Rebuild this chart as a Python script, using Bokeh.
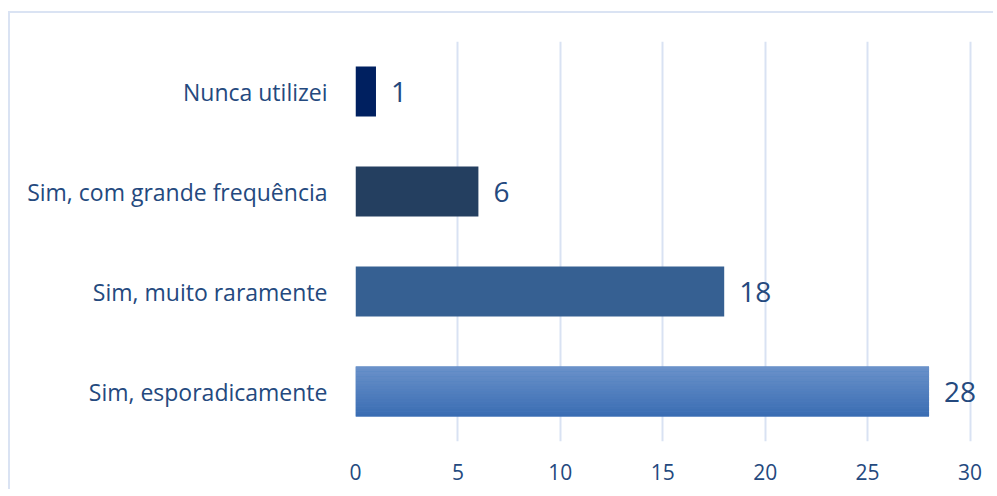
from bokeh.plotting import figure
from bokeh.models import ColumnDataSource, FactorRange, LabelSet
from bokeh.transform import dodge
from bokeh.core.properties import value
from bokeh.embed import file_html
from bokeh.resources import INLINE

# ---- data ----
categories = ["Sim, esporadicamente", "Sim, muito raramente",
              "Sim, com grande frequência", "Nunca utilizei"]
counts = [28, 18, 6, 1]
bar_colors = ["#4F7FC0", "#366092", "#243F60", "#002060"]
x_ticks = [0, 5, 10, 15, 20, 25, 30]

TEXT = "#24497E"
FONT = "Open Sans"

src = ColumnDataSource(dict(cat=categories, val=counts, col=bar_colors,
                            lbl=[str(v) for v in counts]))

p = figure(y_range=FactorRange(*categories, range_padding=0),
           x_range=(0, 31), width=985, height=478,
           output_backend="svg", toolbar_location=None,
           min_border_left=345, min_border_right=5,
           min_border_top=28, min_border_bottom=50)
p.styles = {"border-top": "2px solid #DAE3F3", "border-left": "2px solid #DAE3F3",
            "margin-top": "11px", "margin-left": "8px"}

p.hbar(y="cat", right="val", height=0.5, left=0, fill_color="col",
       line_color=None, source=src)

# vertical gradient on the largest bar (lighter top, darker bottom)
n = 20
top_c = (0x6A, 0x91, 0xC9)
bot_c = (0x3A, 0x6D, 0xB3)
for i in range(n):
    t = i / (n - 1)
    c = tuple(int(round(bot_c[k] + (top_c[k] - bot_c[k]) * t)) for k in range(3))
    off = -0.25 + 0.5 * (i + 0.5) / n
    g = ColumnDataSource(dict(cat=[categories[0]], val=[counts[0]]))
    p.hbar(y=dodge("cat", off, range=p.y_range), right="val", left=0,
           height=0.5 / n * 1.05, fill_color="#%02X%02X%02X" % c,
           line_color=None, source=g)

labels = LabelSet(x="val", y="cat", text="lbl", source=src, x_offset=15,
                  text_baseline="middle", text_align="left",
                  text_font=value(FONT), text_font_size="28px", text_color=TEXT)
p.add_layout(labels)

p.xaxis.ticker = x_ticks
p.xgrid.ticker = x_ticks
p.xgrid.grid_line_color = "#D9E2F3"
p.xgrid.grid_line_width = 2
p.ygrid.grid_line_color = None
p.outline_line_color = None

for ax in (p.xaxis, p.yaxis):
    ax.axis_line_color = None
    ax.major_tick_line_color = None
    ax.minor_tick_line_color = None
    ax.major_label_text_font = FONT
    ax.major_label_text_color = TEXT
p.xaxis.major_label_text_font_size = "21px"
p.yaxis.major_label_text_font_size = "23px"
p.xaxis.major_label_standoff = 16
p.yaxis.major_label_standoff = 22

open("out.html", "w").write(file_html(p, INLINE))
